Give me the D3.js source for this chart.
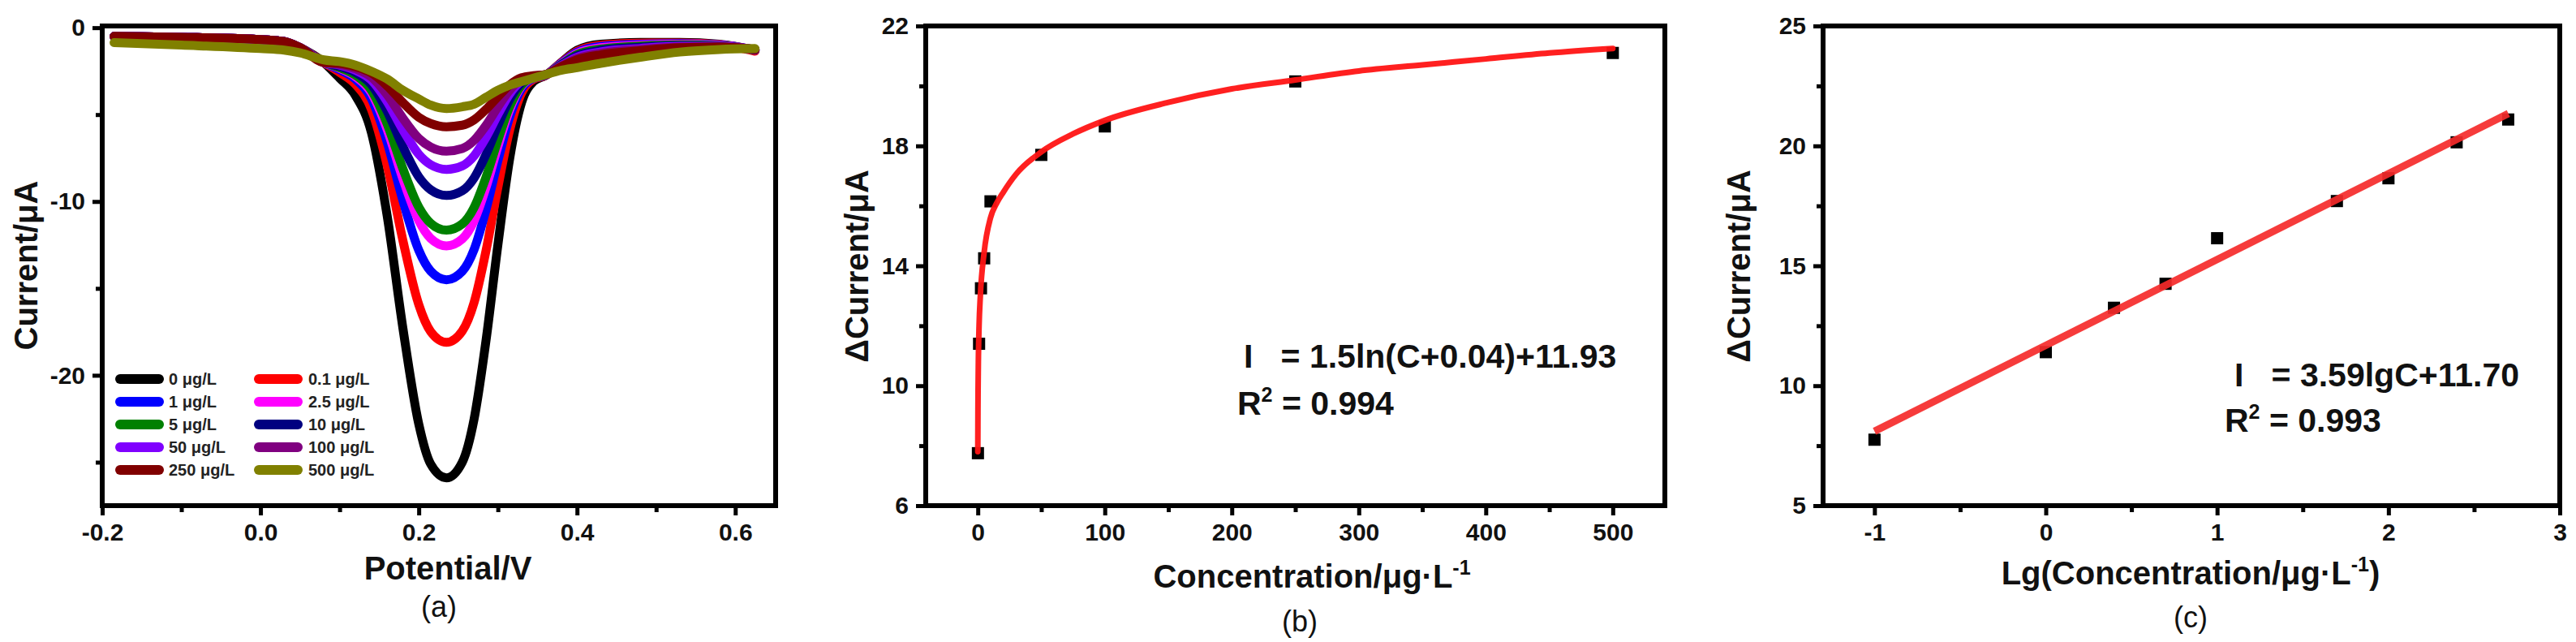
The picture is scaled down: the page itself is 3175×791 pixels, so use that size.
<!DOCTYPE html>
<html><head><meta charset="utf-8">
<script src="https://cdn.jsdelivr.net/npm/d3@7"></script>
<style>
html,body{margin:0;padding:0;background:#fff;}
svg{display:block;font-family:"Liberation Sans",Arial,sans-serif;}
.pre{white-space:pre;}
</style></head><body>
<svg id="fig" width="3175" height="791"></svg>
<script>
// ---------- Panel (a): DPV curves ----------
const potential = [-0.185, -0.1, 0, 0.03, 0.05, 0.08, 0.1, 0.12, 0.14, 0.16, 0.18, 0.2, 0.215, 0.235, 0.255, 0.27, 0.285, 0.3, 0.315, 0.33, 0.345, 0.36, 0.38, 0.4, 0.43, 0.48, 0.53, 0.58, 0.625];
const cur0    = [-0.5,-0.55,-0.68,-0.8,-1.15,-2.0,-2.9,-3.9,-6.0,-10.8,-17.3,-22.8,-25.1,-25.9,-25.0,-22.5,-18.0,-12.5,-7.5,-4.3,-3.1,-2.75,-2.0,-1.3,-0.95,-0.85,-0.85,-0.95,-1.3];
const cur01   = [-0.5,-0.55,-0.68,-0.8,-1.15,-2.0,-2.57,-3.26,-4.67,-7.89,-12.25,-15.93,-17.48,-18.1,-17.45,-15.8,-12.83,-9.18,-5.86,-3.75,-2.97,-2.75,-2.02,-1.35,-1.01,-0.89,-0.88,-0.97,-1.35];
const cur1    = [-0.5,-0.55,-0.68,-0.8,-1.15,-2.0,-2.42,-2.96,-4.07,-6.57,-9.95,-12.8,-14.0,-14.5,-14.01,-12.75,-10.47,-7.66,-5.12,-3.5,-2.91,-2.74,-2.05,-1.42,-1.08,-0.95,-0.92,-0.99,-1.29];
const cur25   = [-0.5,-0.55,-0.68,-0.8,-1.15,-2.0,-2.34,-2.81,-3.74,-5.85,-8.7,-11.1,-12.12,-12.55,-12.15,-11.1,-9.19,-6.84,-4.71,-3.36,-2.87,-2.73,-2.08,-1.48,-1.15,-1.0,-0.95,-1.0,-1.28];
const cur5    = [-0.5,-0.55,-0.68,-0.8,-1.15,-2.0,-2.3,-2.73,-3.59,-5.52,-8.12,-10.32,-11.25,-11.65,-11.29,-10.34,-8.6,-6.47,-4.53,-3.3,-2.86,-2.73,-2.11,-1.55,-1.23,-1.06,-0.99,-1.03,-1.28];
const cur10   = [-0.5,-0.55,-0.68,-0.8,-1.15,-2.0,-2.22,-2.57,-3.26,-4.79,-6.84,-8.58,-9.32,-9.65,-9.38,-8.64,-7.29,-5.63,-4.11,-3.16,-2.82,-2.72,-2.14,-1.62,-1.3,-1.12,-1.03,-1.05,-1.27];
const cur50   = [-0.5,-0.55,-0.68,-0.8,-1.15,-2.0,-2.15,-2.45,-3.01,-4.24,-5.88,-7.28,-7.88,-8.15,-7.95,-7.37,-6.31,-5.0,-3.8,-3.06,-2.8,-2.71,-2.18,-1.7,-1.39,-1.19,-1.07,-1.07,-1.26];
const cur100  = [-0.5,-0.55,-0.68,-0.8,-1.15,-2.0,-2.11,-2.36,-2.83,-3.85,-5.21,-6.37,-6.86,-7.1,-6.95,-6.48,-5.62,-4.56,-3.58,-2.98,-2.78,-2.7,-2.21,-1.77,-1.47,-1.25,-1.11,-1.09,-1.25];
const cur250  = [-0.5,-0.55,-0.68,-0.8,-1.15,-2.0,-2.05,-2.25,-2.6,-3.34,-4.31,-5.15,-5.51,-5.7,-5.61,-5.3,-4.7,-3.97,-3.29,-2.88,-2.76,-2.7,-2.25,-1.85,-1.56,-1.32,-1.15,-1.12,-1.25];
const cur500  = [-0.86,-1.0,-1.2,-1.29,-1.45,-1.85,-1.95,-2.15,-2.5,-2.95,-3.6,-4.1,-4.45,-4.65,-4.55,-4.4,-4.0,-3.6,-3.3,-3.1,-2.9,-2.7,-2.45,-2.3,-2.05,-1.7,-1.4,-1.25,-1.2];
const seriesLabels = ["0 μg/L","0.1 μg/L","1 μg/L","2.5 μg/L","5 μg/L","10 μg/L","50 μg/L","100 μg/L","250 μg/L","500 μg/L"];
const seriesColors = ["#000000","#ff0000","#0000ff","#ff00ff","#008000","#000080","#8000ff","#800080","#800000","#808000"];
const seriesValues = [cur0,cur01,cur1,cur25,cur5,cur10,cur50,cur100,cur250,cur500];
const aXTicks = [-0.2,0.0,0.2,0.4,0.6];
const aXMinor = [-0.1,0.1,0.3,0.5];
const aYTicks = [0,-10,-20];
const aYMinor = [-5,-15,-25];

// ---------- Panel (b): calibration ----------
const concentration = [0.1, 1, 2.5, 5, 10, 50, 100, 250, 500];
const deltaCurrent  = [7.75, 11.4, 13.25, 14.25, 16.15, 17.7, 18.65, 20.15, 21.1];
const fitC = [0, 0.1, 0.2, 0.5, 1, 2, 5, 10, 15, 20, 30, 50, 75, 100, 150, 200, 250, 300, 350, 400, 450, 500];
const fitI = [7.8, 9.0, 9.8, 11.0, 12.0, 13.0, 14.45, 15.6, 16.1, 16.45, 17.05, 17.8, 18.4, 18.85, 19.45, 19.9, 20.2, 20.5, 20.7, 20.9, 21.1, 21.25];
const bXTicks = [0,100,200,300,400,500];
const bXMinor = [50,150,250,350,450];
const bYTicks = [6,10,14,18,22];
const bYMinor = [8,12,16,20];

// ---------- Panel (c): linear ----------
const lgConcentration = [-1, 0, 0.398, 0.699, 1, 1.699, 2, 2.398, 2.699];
const linFitX = [-1, 2.7];
const linFitY = [8.1, 21.35];
const cXTicks = [-1,0,1,2,3];
const cXMinor = [-0.5,0.5,1.5,2.5];
const cYTicks = [5,10,15,20,25];
const cYMinor = [7.5,12.5,17.5,22.5];

const svg = d3.select("#fig");
const TOP = 32, BOT = 623;

function drawFrame(x, y, xt, xm, yt, ym, xf, yf) {
  const [x0, x1] = x.range();
  const g = svg.append("g");
  const bx = g.append("g").attr("transform", `translate(0,${BOT})`)
    .call(d3.axisBottom(x).tickValues(xt).tickSize(12).tickPadding(10).tickFormat(xf));
  const bxm = g.append("g").attr("transform", `translate(0,${BOT})`)
    .call(d3.axisBottom(x).tickValues(xm).tickSize(8).tickFormat(""));
  const ly = g.append("g").attr("transform", `translate(${x0},0)`)
    .call(d3.axisLeft(y).tickValues(yt).tickSize(12).tickPadding(9).tickFormat(yf));
  const lym = g.append("g").attr("transform", `translate(${x0},0)`)
    .call(d3.axisLeft(y).tickValues(ym).tickSize(8).tickFormat(""));
  [bx,bxm,ly,lym].forEach(a => {
    a.select(".domain").remove();
    a.selectAll("line").attr("stroke","#000").attr("stroke-width",5);
    a.selectAll("text").attr("fill","#111").attr("font-size",30).attr("font-weight","bold")
      .attr("font-family",'"Liberation Sans",Arial,sans-serif');
  });
  g.append("rect").attr("x", x0).attr("y", TOP).attr("width", x1 - x0).attr("height", BOT - TOP)
    .attr("fill","none").attr("stroke","#000").attr("stroke-width",6);
  return g;
}

function title(x, y, txt, opts={}) {
  const t = svg.append("text").attr("x", x).attr("y", y)
    .attr("text-anchor","middle").attr("dy","0.35em")
    .attr("font-size", opts.size || 40).attr("font-weight", opts.weight || "bold").attr("fill","#111");
  if (opts.rotate) t.attr("transform", `rotate(-90,${x},${y})`);
  return t.text(txt);
}

// ----- Panel a -----
const xa = d3.scaleLinear().domain([-0.2, 0.651]).range([126, 956]);
const ya = d3.scaleLinear().domain([-27.5, 0.1]).range([BOT, TOP]);
const lineA = d3.line().x((d,i) => xa(potential[i])).y(d => ya(d)).curve(d3.curveMonotoneX);
svg.append("g").selectAll("path").data(seriesValues).join("path")
  .attr("d", d => lineA(d)).attr("fill","none")
  .attr("stroke", (d,i) => seriesColors[i]).attr("stroke-width", 11)
  .attr("stroke-linejoin","round").attr("stroke-linecap","round");
drawFrame(xa, ya, aXTicks, aXMinor, aYTicks, aYMinor, d => d.toFixed(1), d => String(d));

// legend
const leg = svg.append("g");
seriesLabels.forEach((lab, i) => {
  const col = i % 2, row = Math.floor(i / 2);
  const lx = col === 0 ? 148 : 319;
  const ly = 467 + row * 28;
  leg.append("line").attr("x1", lx).attr("x2", lx + 48).attr("y1", ly).attr("y2", ly)
    .attr("stroke", seriesColors[i]).attr("stroke-width", 12).attr("stroke-linecap","round");
  leg.append("text").attr("x", col === 0 ? 208 : 380).attr("y", ly).attr("dy","0.35em")
    .attr("font-size", 20).attr("font-weight","bold").attr("fill","#222").text(lab);
});

title(552, 700, "Potential/V");
title(541, 747, "(a)", {size: 36, weight: "normal"});
title(32, 327, "Current/μA", {rotate: true});

// ----- Panel b -----
const xb = d3.scaleLinear().domain([-41, 541]).range([1141, 2052]);
const yb = d3.scaleLinear().domain([6, 22]).range([BOT, TOP]);
const lineB = d3.line().x((d,i) => xb(fitC[i])).y(d => yb(d)).curve(d3.curveMonotoneX);
svg.append("g").selectAll("rect").data(deltaCurrent).join("rect")
  .attr("x", (d,i) => xb(concentration[i]) - 7.5).attr("y", d => yb(d) - 7.5)
  .attr("width", 15).attr("height", 15).attr("fill","#000");
svg.append("path").attr("d", lineB(fitI)).attr("fill","none").attr("stroke","#ff1414")
  .attr("stroke-width", 7).attr("stroke-linecap","round").attr("opacity",0.95);
drawFrame(xb, yb, bXTicks, bXMinor, bYTicks, bYMinor, d => String(d), d => String(d));

svg.append("text").attr("x",1533).attr("y",439).attr("dy","0.35em")
  .attr("font-size",41).attr("font-weight","bold").attr("fill","#111").attr("class","pre")
  .text("I   = 1.5ln(C+0.04)+11.93");
const r2B = svg.append("text").attr("x",1525).attr("y",497).attr("dy","0.35em")
  .attr("font-size",41).attr("font-weight","bold").attr("fill","#111");
r2B.append("tspan").text("R");
r2B.append("tspan").attr("font-size",25).attr("dy",-16).text("2");
r2B.append("tspan").attr("dy",16).attr("class","pre").text(" = 0.994");

const tb = title(1617, 710, "Concentration/μg·L");
tb.append("tspan").attr("font-size",25).attr("dy",-16).text("-1");
title(1602, 765, "(b)", {size: 36, weight: "normal"});
title(1056, 328, "ΔCurrent/μA", {rotate: true});

// ----- Panel c -----
const xc = d3.scaleLinear().domain([-1.3, 3]).range([2247, 3155]);
const yc = d3.scaleLinear().domain([5, 25]).range([BOT, TOP]);
svg.append("g").selectAll("rect").data(deltaCurrent).join("rect")
  .attr("x", (d,i) => xc(lgConcentration[i]) - 7.5).attr("y", d => yc(d) - 7.5)
  .attr("width", 15).attr("height", 15).attr("fill","#000");
const lineC = d3.line().x((d,i) => xc(linFitX[i])).y(d => yc(d));
svg.append("path").attr("d", lineC(linFitY)).attr("fill","none").attr("stroke","#f52a2a")
  .attr("stroke-width", 9).attr("opacity",0.92);
drawFrame(xc, yc, cXTicks, cXMinor, cYTicks, cYMinor, d => String(d), d => String(d));

svg.append("text").attr("x",2754).attr("y",462).attr("dy","0.35em")
  .attr("font-size",41).attr("font-weight","bold").attr("fill","#111").attr("class","pre")
  .text("I   = 3.59lgC+11.70");
const r2C = svg.append("text").attr("x",2742).attr("y",518).attr("dy","0.35em")
  .attr("font-size",41).attr("font-weight","bold").attr("fill","#111");
r2C.append("tspan").text("R");
r2C.append("tspan").attr("font-size",25).attr("dy",-16).text("2");
r2C.append("tspan").attr("dy",16).attr("class","pre").text(" = 0.993");

const tc = title(2700, 706, "Lg(Concentration/μg·L");
tc.append("tspan").attr("font-size",25).attr("dy",-16).text("-1");
tc.append("tspan").attr("dy",16).text(")");
title(2700, 760, "(c)", {size: 36, weight: "normal"});
title(2143, 328, "ΔCurrent/μA", {rotate: true});
</script>
</body></html>
